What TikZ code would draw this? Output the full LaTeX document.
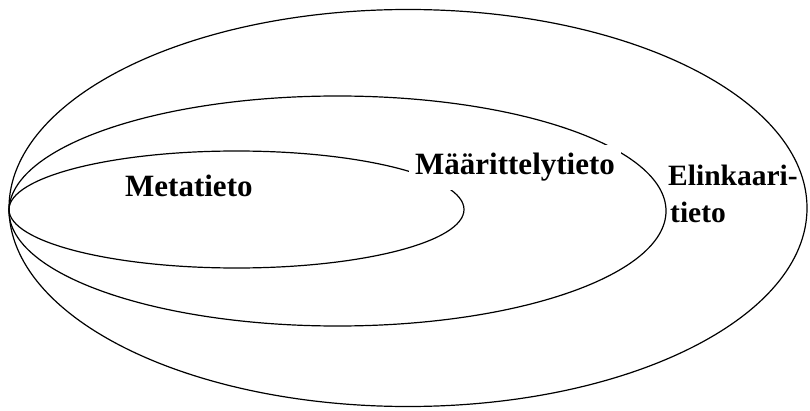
\documentclass[tikz,border=0pt]{standalone}
\usepackage{fontspec}
\setmainfont{Liberation Serif}
\begin{document}
\begin{tikzpicture}[x=1pt,y=1pt,
  ring/.style={draw=black,line width=1.2pt},
  lbl/.style={font=\fontsize{31}{37}\selectfont\bfseries, inner sep=0pt, anchor=base west},
  lblsmall/.style={lbl, font=\fontsize{29.5}{35}\selectfont\bfseries}]
\useasboundingbox (0,0) rectangle (810,410);
\draw[ring] (408,202) ellipse [x radius=399, y radius=198.5];
\draw[ring] (337.5,199) ellipse [x radius=328.5, y radius=115];
\draw[ring] (236.5,200.5) ellipse [x radius=227.5, y radius=58.5];
\node[lbl] (meta) at (125,214) {Metatieto};
\node[lbl, fill=white, inner xsep=6pt, inner ysep=8.5pt] (maar) at (409,235) {Määrittelytieto};
\node[lblsmall] (elin) at (668,225) {Elinkaari-};
\node[lblsmall] (elin2) at (670,188) {tieto};
\end{tikzpicture}
\end{document}
